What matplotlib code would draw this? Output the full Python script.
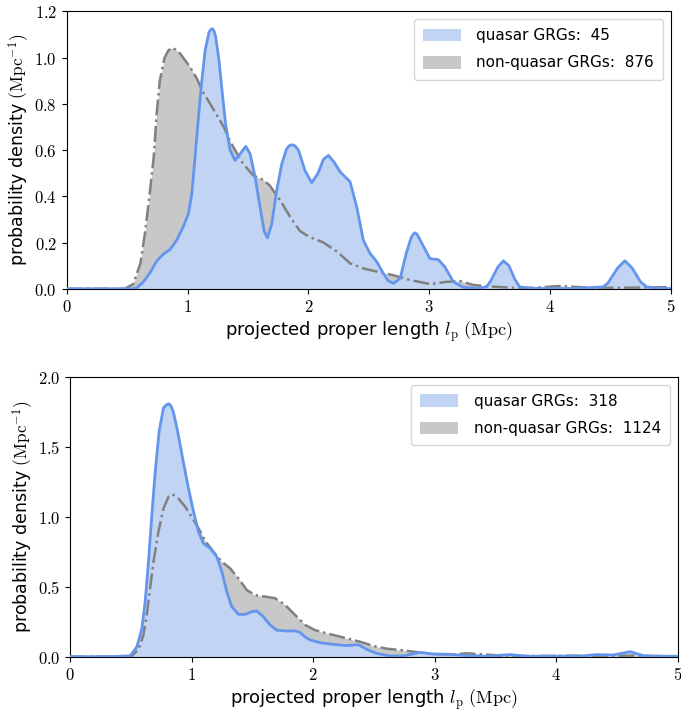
import matplotlib
matplotlib.use("Agg")
import matplotlib.pyplot as plt
from matplotlib.ticker import FuncFormatter, MultipleLocator
import numpy as np

plt.rcParams['mathtext.fontset'] = 'cm'
plt.rcParams['font.size'] = 12

# ---- sample 1: 45 quasar GRGs vs 876 non-quasar GRGs ----
lp_q1 = [0.0, 0.3, 0.55, 0.58, 0.635, 0.69, 0.745, 0.80, 0.855, 0.91, 0.966, 1.007, 1.035, 1.062,
         1.09, 1.118, 1.145, 1.178, 1.192, 1.206, 1.22, 1.233, 1.26, 1.289, 1.316, 1.352, 1.393,
         1.435, 1.482, 1.518, 1.559, 1.60, 1.634, 1.661, 1.697, 1.738, 1.78, 1.82, 1.845, 1.868,
         1.89, 1.918, 1.973, 2.028, 2.08, 2.125, 2.166, 2.21, 2.263, 2.345, 2.40, 2.455, 2.51,
         2.566, 2.62, 2.66, 2.704, 2.76, 2.81, 2.85, 2.868, 2.883, 2.90, 2.94, 3.007, 3.076, 3.13,
         3.20, 3.283, 3.40, 3.475, 3.51, 3.57, 3.614, 3.66, 3.71, 3.75, 3.85, 4.0, 4.2, 4.44,
         4.48, 4.56, 4.62, 4.68, 4.75, 4.80, 4.9, 5.0]
pd_q1 = [0.0, 0.0, 0.0, 0.004, 0.03, 0.07, 0.12, 0.15, 0.17, 0.21, 0.27, 0.325, 0.41, 0.57,
         0.74, 0.90, 1.03, 1.11, 1.122, 1.125, 1.115, 1.09, 0.99, 0.84, 0.71, 0.60, 0.555,
         0.584, 0.616, 0.584, 0.483, 0.354, 0.25, 0.22, 0.28, 0.426, 0.54, 0.606, 0.62, 0.623,
         0.618, 0.60, 0.51, 0.459, 0.50, 0.56, 0.577, 0.55, 0.506, 0.463, 0.355, 0.21, 0.153,
         0.117, 0.067, 0.035, 0.023, 0.045, 0.153, 0.22, 0.236, 0.242, 0.236, 0.196, 0.13, 0.126,
         0.095, 0.03, 0.006, 0.002, 0.008, 0.035, 0.095, 0.121, 0.10, 0.04, 0.008, 0.002, 0.001,
         0.001, 0.008, 0.025, 0.09, 0.121, 0.09, 0.03, 0.008, 0.002, 0.001]

lp_n1 = [0.0, 0.3, 0.48, 0.55, 0.61, 0.65, 0.68, 0.72, 0.745, 0.77, 0.81, 0.84, 0.87, 0.90,
         0.94, 1.02, 1.076, 1.13, 1.21, 1.30, 1.35, 1.41, 1.46, 1.545, 1.63, 1.68, 1.77, 1.85,
         1.93, 2.01, 2.125, 2.24, 2.345, 2.455, 2.57, 2.70, 2.84, 3.01, 3.145, 3.255, 3.37,
         3.53, 3.70, 3.86, 4.08, 4.28, 4.55, 5.0]
pd_n1 = [0.0, 0.0, 0.0, 0.02, 0.11, 0.25, 0.38, 0.57, 0.76, 0.90, 1.0, 1.03, 1.043, 1.035,
         1.017, 0.96, 0.91, 0.85, 0.78, 0.70, 0.64, 0.585, 0.54, 0.49, 0.47, 0.447, 0.38, 0.31,
         0.25, 0.224, 0.20, 0.16, 0.11, 0.088, 0.074, 0.059, 0.038, 0.02, 0.03, 0.033, 0.016,
         0.009, 0.004, 0.004, 0.012, 0.006, 0.004, 0.007]

# ---- sample 2: 318 quasar GRGs vs 1124 non-quasar GRGs ----
lp_q2 = [0.0, 0.3, 0.494, 0.549, 0.59, 0.617, 0.645, 0.672, 0.70, 0.732, 0.768, 0.79, 0.81,
         0.83, 0.85, 0.89, 0.93, 0.974, 1.015, 1.056, 1.097, 1.152, 1.207, 1.248, 1.289, 1.33,
         1.385, 1.44, 1.495, 1.536, 1.59, 1.646, 1.70, 1.77, 1.85, 1.89, 1.935, 1.975, 2.057,
         2.167, 2.277, 2.372, 2.44, 2.52, 2.63, 2.74, 2.88, 2.99, 3.127, 3.26, 3.43, 3.62, 3.76,
         3.98, 4.22, 4.33, 4.47, 4.61, 4.72, 4.80, 5.0]
pd_q2 = [0.0, 0.0, 0.005, 0.07, 0.20, 0.39, 0.68, 1.01, 1.32, 1.61, 1.78, 1.80, 1.81,
         1.795, 1.75, 1.59, 1.40, 1.205, 1.04, 0.895, 0.81, 0.776, 0.716, 0.61, 0.466, 0.358,
         0.303, 0.303, 0.322, 0.327, 0.286, 0.227, 0.19, 0.184, 0.184, 0.175, 0.14, 0.12, 0.10,
         0.088, 0.079, 0.086, 0.053, 0.024, 0.005, 0.005, 0.031, 0.019, 0.017, 0.007, 0.003,
         0.015, 0.003, 0.003, 0.005, 0.015, 0.012, 0.036, 0.007, 0.003, 0.003]

lp_n2 = [0.0, 0.3, 0.507, 0.562, 0.603, 0.631, 0.658, 0.686, 0.727, 0.768, 0.81, 0.842, 0.89,
         0.946, 1.00, 1.056, 1.11, 1.18, 1.248, 1.317, 1.385, 1.454, 1.522, 1.605, 1.687, 1.77,
         1.85, 1.934, 2.016, 2.057, 2.167, 2.277, 2.386, 2.496, 2.606, 2.715, 2.85, 2.99, 3.155,
         3.26, 3.43, 3.59, 3.81, 4.09, 4.36, 4.64, 5.0]
pd_n2 = [0.0, 0.0, 0.005, 0.05, 0.155, 0.30, 0.49, 0.68, 0.895, 1.06, 1.145, 1.162, 1.133,
         1.074, 1.00, 0.92, 0.83, 0.75, 0.68, 0.632, 0.56, 0.477, 0.44, 0.43, 0.418, 0.37,
         0.30, 0.227, 0.19, 0.18, 0.155, 0.131, 0.107, 0.077, 0.057, 0.048, 0.033, 0.019, 0.015,
         0.024, 0.015, 0.005, 0.005, 0.007, 0.005, 0.007, 0.003]

n_q = [45, 318]
n_n = [876, 1124]
ymax = [1.2, 2.0]
ystep = [0.2, 0.5]

BLUE = 'cornflowerblue'
BLUE_FILL = '#c2d4f4'
GREY = 'grey'
GREY_FILL = '#c8c8c8'

fig = plt.figure(figsize=(6.81, 7.13), dpi=100)
axes = [fig.add_axes([0.098, 0.595, 0.887, 0.389]),
        fig.add_axes([0.103, 0.079, 0.892, 0.392])]

curves = [(lp_q1, pd_q1, lp_n1, pd_n1), (lp_q2, pd_q2, lp_n2, pd_n2)]

for i, ax in enumerate(axes):
    xq, yq, xn, yn = curves[i]
    fn = ax.fill_between(xn, yn, color=GREY_FILL, lw=0, zorder=1,
                         label=f'non-quasar GRGs:  {n_n[i]}')
    fq = ax.fill_between(xq, yq, color=BLUE_FILL, lw=0, zorder=2,
                         label=f'quasar GRGs:  {n_q[i]}')
    ax.plot(xn, yn, color=GREY, ls='-.', lw=1.8, zorder=3)
    ax.plot(xq, yq, color=BLUE, lw=2, zorder=4)

    ax.set_xlim(0, 5)
    ax.set_ylim(0, ymax[i])
    ax.xaxis.set_major_locator(MultipleLocator(1))
    ax.yaxis.set_major_locator(MultipleLocator(ystep[i]))
    ax.xaxis.set_major_formatter(FuncFormatter(lambda v, p: f'${v:.0f}$'))
    ax.yaxis.set_major_formatter(FuncFormatter(lambda v, p: f'${v:.1f}$'))
    ax.tick_params(labelsize=12)
    ax.set_xlabel(r'projected proper length $l_\mathrm{p}$ $(\mathrm{Mpc})$', fontsize=13,
                  labelpad=2)
    ax.set_ylabel(r'probability density $(\mathrm{Mpc}^{-1})$', fontsize=12.5, labelpad=2)
    ax.legend(handles=[fq, fn], loc='upper right', fontsize=11, handlelength=2.5,
              handleheight=0.9, labelspacing=0.8, handletextpad=1.0, borderpad=0.6)

fig.savefig('out.png', dpi=100)
